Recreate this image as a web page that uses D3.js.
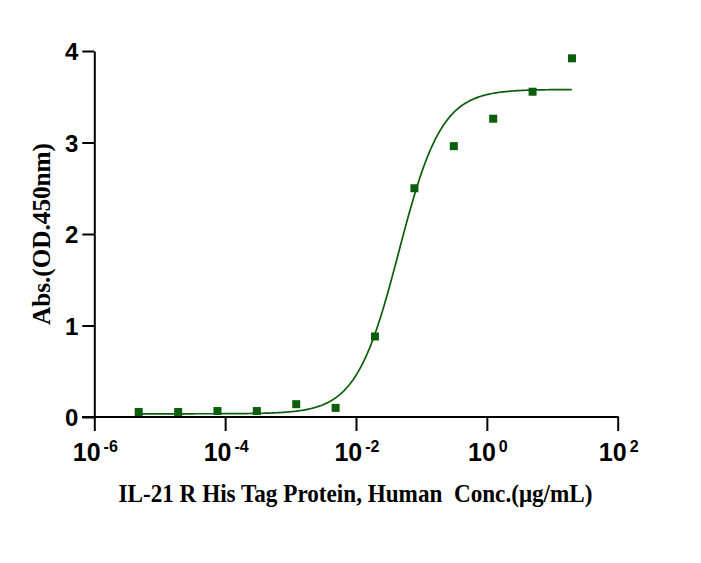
<!DOCTYPE html>
<html lang="en">

<head>
    <meta charset="UTF-8">
    <title>IL-21 R ELISA curve</title>
    <script src="https://d3js.org/d3.v7.min.js"></script>
    <style>
        body { margin: 0; background: #fff; }
        .tick-label { font-family: "Liberation Sans", Arial, sans-serif; font-weight: bold; fill: #000; }
        .axis-title { font-family: "Liberation Serif", "Times New Roman", serif; font-weight: bold; fill: #000; white-space: pre; }
    </style>
</head>

<body>
    <script>
        const width = 701;
        const height = 563;

        // measured points: 4-fold dilution from 20 µg/mL
        const conc = [4.77e-6, 1.91e-5, 7.63e-5, 3.05e-4, 1.22e-3, 4.88e-3, 0.0195, 0.0781, 0.3125, 1.25, 5, 20];
        const od = [0.055, 0.055, 0.065, 0.065, 0.14, 0.10, 0.88, 2.50, 2.96, 3.26, 3.555, 3.92];

        // 4PL fit parameters
        const fitBottom = 0.035;
        const fitTop = 3.58;
        const fitLogEC50 = -1.345;
        const fitHill = 1.33;

        const xTicks = [1e-6, 1e-4, 1e-2, 1e0, 1e2];
        const xTickExp = ["-6", "-4", "-2", "0", "2"];
        const yTicks = [0, 1, 2, 3, 4];

        const green = "#0b5e0b";

        const x = d3.scaleLog().domain([1e-6, 1e2]).range([94.3, 617.7]);
        const y = d3.scaleLinear().domain([0, 4]).range([417, 51]);

        const svg = d3.select("body")
            .append("svg")
            .attr("width", width)
            .attr("height", height);

        // x axis
        const xAxis = svg.append("g")
            .attr("transform", `translate(0,${y(0)})`)
            .call(d3.axisBottom(x).tickValues(xTicks).tickSize(14).tickFormat(""));
        xAxis.select(".domain").remove();
        xAxis.selectAll(".tick line").attr("stroke", "#000").attr("stroke-width", 2);
        xAxis.append("line")
            .attr("x1", 82).attr("x2", x(1e2) + 1)
            .attr("stroke", "#000").attr("stroke-width", 2);

        const xl = svg.append("g").selectAll("text")
            .data(xTicks)
            .enter()
            .append("text")
            .attr("class", "tick-label")
            .attr("x", d => x(d) + 1)
            .attr("y", 461)
            .attr("text-anchor", "middle");
        xl.append("tspan").style("font-size", "25px").text("10");
        xl.append("tspan").style("font-size", "16px").attr("dx", 3).attr("dy", -9).text((d, i) => xTickExp[i]);

        // y axis
        const yAxis = svg.append("g")
            .attr("transform", `translate(${x(1e-6)},0)`)
            .call(d3.axisLeft(y).tickValues(yTicks).tickSize(12).tickSizeOuter(0).tickPadding(4).tickFormat(d3.format("d")));
        yAxis.select(".domain").attr("stroke", "#000").attr("stroke-width", 2);
        yAxis.selectAll(".tick line").attr("stroke", "#000").attr("stroke-width", 2);
        yAxis.selectAll(".tick text")
            .attr("class", "tick-label")
            .style("font-size", "24px")
            .attr("dy", "0.36em");

        // fitted curve
        const logX = d3.range(Math.log10(conc[0]), Math.log10(conc[conc.length - 1]) + 0.001, 0.02);
        const fit = logX.map(lx => [Math.pow(10, lx),
            fitBottom + (fitTop - fitBottom) / (1 + Math.pow(10, (fitLogEC50 - lx) * fitHill))]);

        svg.append("path")
            .datum(fit)
            .attr("fill", "none")
            .attr("stroke", green)
            .attr("stroke-width", 1.7)
            .attr("d", d3.line().x(d => x(d[0])).y(d => y(d[1])));

        // points
        svg.append("g").selectAll("rect")
            .data(conc)
            .enter()
            .append("rect")
            .attr("x", d => x(d) - 4)
            .attr("y", (d, i) => y(od[i]) - 4)
            .attr("width", 8)
            .attr("height", 8)
            .attr("fill", green);

        // titles
        svg.append("text")
            .attr("class", "axis-title")
            .attr("x", 355.5)
            .attr("y", 501.5)
            .attr("text-anchor", "middle")
            .style("font-size", "25px")
            .attr("textLength", 474)
            .attr("lengthAdjust", "spacingAndGlyphs")
            .text("IL-21 R His Tag Protein, Human  Conc.(μg/mL)");

        svg.append("text")
            .attr("class", "axis-title")
            .attr("transform", `translate(49.5,${y(2)}) rotate(-90)`)
            .attr("text-anchor", "middle")
            .style("font-size", "25px")
            .attr("textLength", 182)
            .attr("lengthAdjust", "spacingAndGlyphs")
            .text("Abs.(OD.450nm)");
    </script>
</body>

</html>
